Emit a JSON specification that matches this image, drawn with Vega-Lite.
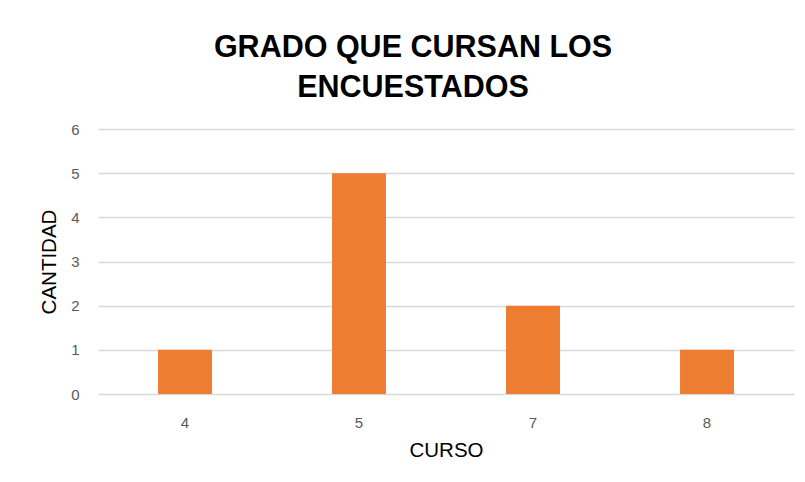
{
  "$schema": "https://vega.github.io/schema/vega-lite/v6.json",
  "autosize": "none",
  "width": 696,
  "height": 265,
  "padding": {"left": 98, "top": 129, "right": 11, "bottom": 88},
  "background": "white",
  "config": {
    "font": "Liberation Sans",
    "view": {"stroke": null}
  },
  "title": {
    "text": ["GRADO QUE CURSAN LOS", "ENCUESTADOS"],
    "fontSize": 30.5,
    "fontWeight": "bold",
    "color": "#000000",
    "anchor": "middle",
    "dx": -33,
    "offset": 19,
    "lineHeight": 40,
    "font": "Liberation Sans"
  },
  "data": {
    "values": [
      {"curso": "4", "cantidad": 1},
      {"curso": "5", "cantidad": 5},
      {"curso": "7", "cantidad": 2},
      {"curso": "8", "cantidad": 1}
    ]
  },
  "mark": {"type": "bar", "color": "#ED7D31"},
  "encoding": {
    "x": {
      "field": "curso",
      "type": "nominal",
      "sort": null,
      "scale": {"paddingInner": 0.69, "paddingOuter": 0.345},
      "axis": {
        "title": "CURSO",
        "titleFontSize": 20.5,
        "titleFontWeight": "normal",
        "titleColor": "#000000",
        "titlePadding": 10,
        "labelAngle": 0,
        "labelFontSize": 15,
        "labelColor": "#595959",
        "labelPadding": 21,
        "domain": false,
        "ticks": false,
        "grid": false
      }
    },
    "y": {
      "field": "cantidad",
      "type": "quantitative",
      "scale": {"domain": [0, 6]},
      "axis": {
        "title": "CANTIDAD",
        "titleFontSize": 20.5,
        "titleFontWeight": "normal",
        "titleColor": "#000000",
        "titlePadding": 11,
        "values": [0, 1, 2, 3, 4, 5, 6],
        "labelFontSize": 15,
        "labelColor": "#595959",
        "labelPadding": 19,
        "domain": false,
        "ticks": false,
        "grid": true,
        "gridColor": "#d9d9d9",
        "gridWidth": 1.5
      }
    }
  }
}
